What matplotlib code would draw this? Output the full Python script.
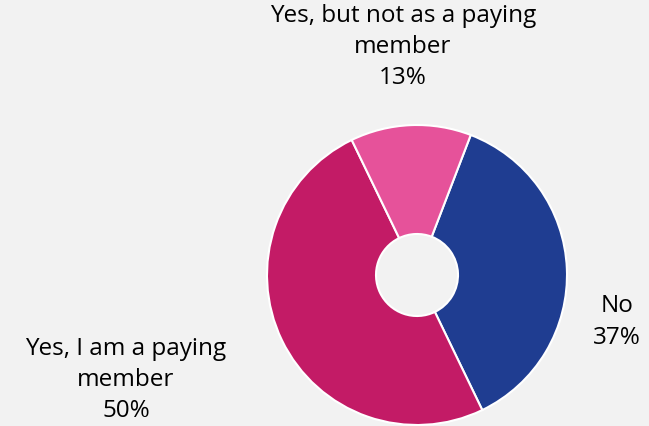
import matplotlib
matplotlib.use("Agg")
import matplotlib.pyplot as plt

categories = ["No", "Yes, I am a paying\nmember", "Yes, but not as a paying\nmember"]
values = [37, 50, 13]
colors = ["#1f3d91", "#c31b66", "#e6529a"]

W, H = 649, 426
fig = plt.figure(figsize=(W / 100, H / 100), dpi=100)
fig.patch.set_facecolor("#f2f2f2")

cx, cy, r = 417, 275, 150
ax = fig.add_axes([(cx - r) / W, (H - cy - r) / H, 2 * r / W, 2 * r / H])
ax.set_facecolor("#f2f2f2")
ax.pie(values, colors=colors, startangle=69, counterclock=False,
       radius=1.0, wedgeprops=dict(width=1 - 41 / 150, edgecolor="white", linewidth=1.5))
ax.set_xlim(-1, 1)
ax.set_ylim(-1, 1)
ax.set_aspect("equal")
ax.axis("off")

font = "Open Sans"
fs = 17.5
label_pos = [(617, 322), (126, 380), (403, 47)]
for cat, val, (px, py) in zip(categories, values, label_pos):
    fig.text(px / W, 1 - py / H, f"{cat}\n{val}%", ha="center", va="center",
             fontsize=fs, family=font, color="#000000", linespacing=1.4)

fig.savefig("out.png", dpi=100, facecolor=fig.get_facecolor())
